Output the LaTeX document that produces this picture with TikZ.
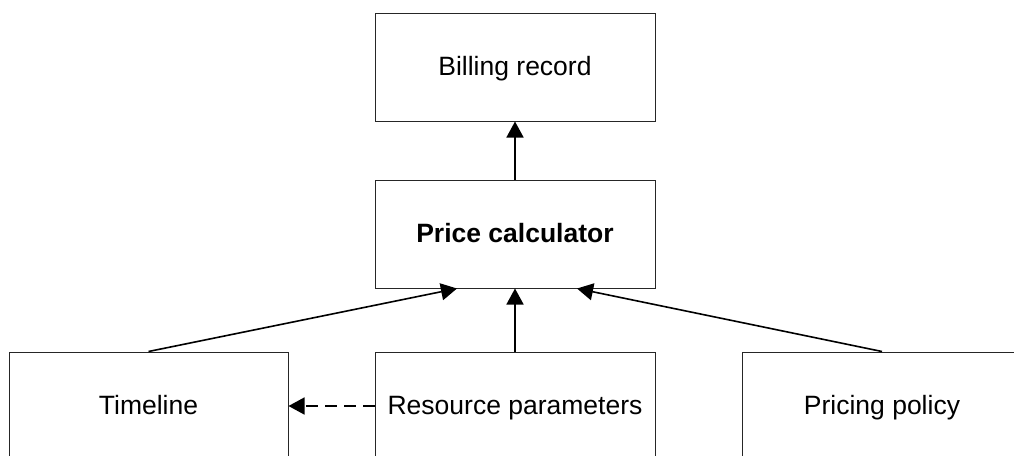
\documentclass[tikz,border=0pt]{standalone}
\usepackage{fontspec}
\setmainfont{Liberation Sans}
\usetikzlibrary{arrows.meta}
\begin{document}
\begin{tikzpicture}[x=1pt,y=-1pt,
  box/.style={draw=black!85, line width=1pt, minimum width=280pt, minimum height=108pt,
    inner sep=0pt, text height=22pt, text depth=5.5pt, font=\fontsize{26.5}{30}\selectfont},
  conn/.style={line width=1.6pt, -{Triangle[length=16pt,width=17pt]}},
  dashconn/.style={conn, dash pattern=on 12pt off 7pt}]
\clip (0,0) rectangle (1014,455);
\useasboundingbox (0,0) rectangle (1014,455);
\node[box] (bill) at (515,67) {Billing record};
\node[box] (calc) at (515,234) {\bfseries Price calculator};
\node[box, minimum width=279pt] (time) at (148.5,406) {Timeline};
\node[box] (res) at (515,406) {Resource parameters};
\node[box] (pol) at (882,406) {Pricing policy};
\draw[conn] (calc.north) -- (bill.south);
\draw[conn] (res.north) -- (calc.south);
\draw[conn] (time.north) -- ([xshift=-58pt]calc.south);
\draw[conn] (pol.north) -- ([xshift=62pt]calc.south);
\draw[dashconn] (res.west) -- (time.east);
\end{tikzpicture}
\end{document}
